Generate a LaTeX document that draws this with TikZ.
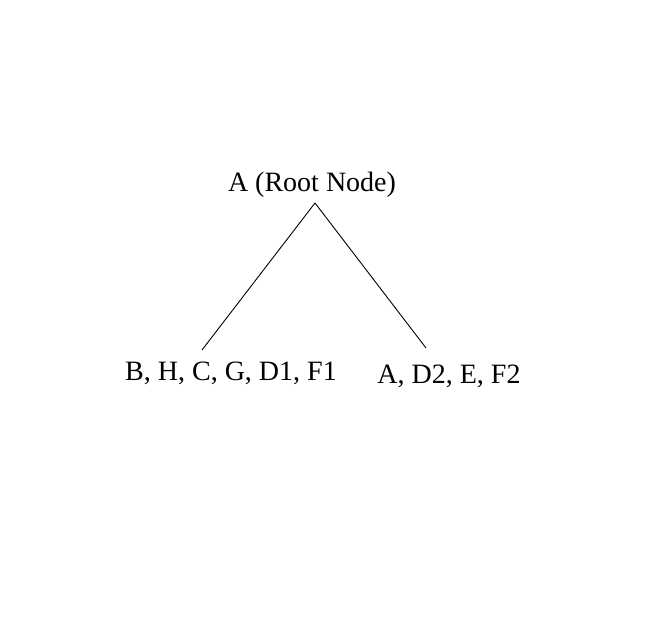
\documentclass[tikz,border=0pt]{standalone}
\usepackage{fontspec}
\setmainfont{Liberation Serif}
\tikzset{lbl/.style={font=\fontsize{28}{32}\selectfont,inner sep=0pt,anchor=base}}
\begin{document}
\begin{tikzpicture}[x=1pt,y=1pt,line width=0.9pt]
\useasboundingbox (0,0) rectangle (650,620);
\node[lbl] (root) at (312,428) {A (Root Node)};
\node[lbl] (left) at (231,239) {B, H, C, G, D1, F1};
\node[lbl] (right) at (449,236) {A, D2, E, F2};
\path[draw] ([xshift=3pt,yshift=-11pt]root.base) -- ([xshift=-29pt,yshift=31pt]left.base);
\path[draw] ([xshift=3pt,yshift=-11pt]root.base) -- ([xshift=-23pt,yshift=36pt]right.base);
\end{tikzpicture}
\end{document}
